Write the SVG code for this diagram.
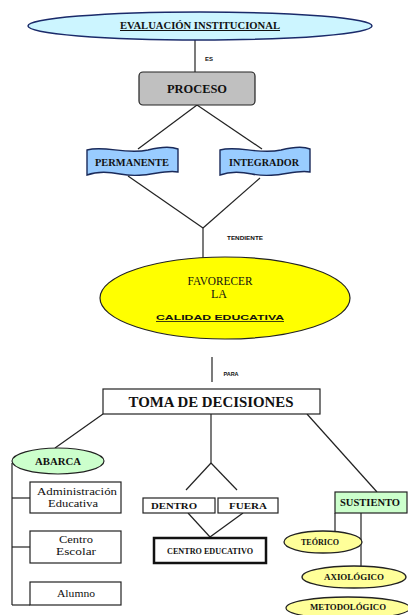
<svg xmlns="http://www.w3.org/2000/svg" width="408" height="615" viewBox="0 0 408 615">
  <style>
    .ln { stroke: #222; stroke-width: 1.2; fill: none; }
    .box { fill: #fff; stroke: #222; stroke-width: 1.2; }
    .t { font-family: "Liberation Serif", "DejaVu Serif", serif; fill: #111; text-anchor: middle; }
    .b { font-weight: bold; }
    .s { font-family: "Liberation Sans", "DejaVu Sans", sans-serif; font-weight: bold; fill: #111; text-anchor: middle; }
  </style>
  <rect width="408" height="615" fill="#fff"/>

  <g id="connectors">
    <line class="ln" x1="195" y1="38" x2="195" y2="72"/>
    <line class="ln" x1="197" y1="105" x2="138" y2="149"/>
    <line class="ln" x1="197" y1="105" x2="262" y2="149"/>
    <line class="ln" x1="128" y1="176" x2="203" y2="228"/>
    <line class="ln" x1="260" y1="178" x2="203" y2="228"/>
    <line class="ln" x1="203" y1="228" x2="203" y2="258"/>
    <line class="ln" x1="212" y1="357" x2="212" y2="382"/>
    <line class="ln" x1="103" y1="414" x2="55" y2="448"/>
    <line class="ln" x1="12" y1="463" x2="12" y2="605"/>
    <line class="ln" x1="12" y1="498" x2="30" y2="498"/>
    <line class="ln" x1="12" y1="547" x2="30" y2="547"/>
    <line class="ln" x1="12" y1="605" x2="30" y2="605"/>
    <line class="ln" x1="211" y1="414" x2="211" y2="463"/>
    <line class="ln" x1="211" y1="463" x2="186" y2="490"/>
    <line class="ln" x1="211" y1="463" x2="237" y2="490"/>
    <line class="ln" x1="188" y1="513" x2="210" y2="537"/>
    <line class="ln" x1="243" y1="513" x2="210" y2="537"/>
    <line class="ln" x1="307" y1="414" x2="377" y2="492"/>
    <line class="ln" x1="335" y1="513" x2="335" y2="532"/>
    <line class="ln" x1="361" y1="513" x2="361" y2="566"/>
  </g>

  <g id="evaluacion">
    <ellipse cx="200" cy="26" rx="172" ry="14" fill="#ccf5ff" stroke="#1a2a6a" stroke-width="1.5"/>
    <text class="t b" x="200" y="29" font-size="10" textLength="160" lengthAdjust="spacingAndGlyphs" text-decoration="underline">EVALUACIÓN INSTITUCIONAL</text>
  </g>
  <text class="s" x="209" y="61" font-size="6">ES</text>

  <g id="proceso">
    <rect x="139" y="72" width="116" height="33" rx="4" fill="#c0c0c0" stroke="#222" stroke-width="1.2"/>
    <text class="t b" x="197" y="93" font-size="13" textLength="60" lengthAdjust="spacingAndGlyphs">PROCESO</text>
  </g>

  <g id="permanente">
    <path d="M87,150 C105,145 125,155 148,150 C160,147 170,146 178,149 L178,172 C162,169 145,179 120,174 C105,171 95,172 87,175 Z" fill="#99ccff" stroke="#1a2a5a" stroke-width="1.4"/>
    <text class="t b" x="132" y="166" font-size="10" textLength="74" lengthAdjust="spacingAndGlyphs">PERMANENTE</text>
  </g>

  <g id="integrador">
    <path d="M220,150 C238,145 258,155 281,150 C293,147 303,146 310,149 L310,172 C294,169 277,179 252,174 C237,171 228,172 220,175 Z" fill="#99ccff" stroke="#1a2a5a" stroke-width="1.4"/>
    <text class="t b" x="264" y="166" font-size="10" textLength="70" lengthAdjust="spacingAndGlyphs">INTEGRADOR</text>
  </g>
  <text class="s" x="245" y="240" font-size="5.5" textLength="36" lengthAdjust="spacingAndGlyphs">TENDIENTE</text>

  <g id="favorecer">
    <ellipse cx="225" cy="298" rx="125" ry="41" fill="#ffff00" stroke="#222" stroke-width="1.2"/>
    <text class="t" x="220" y="285" font-size="12" textLength="65" lengthAdjust="spacingAndGlyphs">FAVORECER</text>
    <text class="t" x="219" y="298" font-size="12">LA</text>
    <text class="s" x="220" y="320" font-size="8" textLength="128" lengthAdjust="spacingAndGlyphs" text-decoration="underline">CALIDAD  EDUCATIVA</text>
  </g>
  <text class="s" x="231" y="376" font-size="5.5">PARA</text>

  <g id="toma">
    <rect class="box" x="103" y="389" width="217" height="25"/>
    <text class="t b" x="211" y="407" font-size="14.5" textLength="165" lengthAdjust="spacingAndGlyphs">TOMA DE DECISIONES</text>
  </g>

  <g id="abarca">
    <ellipse cx="58" cy="461" rx="46" ry="13" fill="#ccffcc" stroke="#222" stroke-width="1.2"/>
    <text class="t b" x="58" y="465" font-size="9.5" textLength="46" lengthAdjust="spacingAndGlyphs">ABARCA</text>
  </g>

  <g id="administracion">
    <rect class="box" x="30" y="482" width="91" height="31"/>
    <text class="t" x="77" y="495" font-size="11" textLength="80" lengthAdjust="spacingAndGlyphs">Administración</text>
    <text class="t" x="73" y="507" font-size="11" textLength="50" lengthAdjust="spacingAndGlyphs">Educativa</text>
  </g>

  <g id="centro-escolar">
    <rect class="box" x="30" y="531" width="91" height="32"/>
    <text class="t" x="76" y="543" font-size="11" textLength="34" lengthAdjust="spacingAndGlyphs">Centro</text>
    <text class="t" x="76" y="555" font-size="11" textLength="40" lengthAdjust="spacingAndGlyphs">Escolar</text>
  </g>

  <g id="alumno">
    <rect class="box" x="30" y="582" width="91" height="23"/>
    <text class="t" x="76" y="597" font-size="11" textLength="38" lengthAdjust="spacingAndGlyphs">Alumno</text>
  </g>

  <g id="dentro">
    <rect class="box" x="143" y="498" width="72" height="15"/>
    <text class="t b" x="174" y="509" font-size="9" textLength="46" lengthAdjust="spacingAndGlyphs">DENTRO</text>
  </g>

  <g id="fuera">
    <rect class="box" x="218" y="498" width="60" height="15"/>
    <text class="t b" x="248" y="509" font-size="9" textLength="38" lengthAdjust="spacingAndGlyphs">FUERA</text>
  </g>

  <g id="centro-educativo">
    <rect x="154" y="538" width="112" height="25" fill="#fff" stroke="#111" stroke-width="2.5"/>
    <text class="t b" x="210" y="554" font-size="9" textLength="86" lengthAdjust="spacingAndGlyphs">CENTRO EDUCATIVO</text>
  </g>

  <g id="sustiento">
    <rect x="335" y="492" width="72" height="21" fill="#ccffcc" stroke="#222" stroke-width="1.2"/>
    <text class="t b" x="370" y="506" font-size="10" textLength="60" lengthAdjust="spacingAndGlyphs">SUSTIENTO</text>
  </g>

  <g id="teorico">
    <ellipse cx="323" cy="542" rx="39" ry="11" fill="#ffff99" stroke="#222" stroke-width="1.3"/>
    <text class="t b" x="320" y="545" font-size="8.5" textLength="38" lengthAdjust="spacingAndGlyphs">TEÓRICO</text>
  </g>

  <g id="axiologico">
    <ellipse cx="354" cy="577" rx="52" ry="11" fill="#ffff99" stroke="#222" stroke-width="1.3"/>
    <text class="t b" x="354" y="580" font-size="8.5" textLength="60" lengthAdjust="spacingAndGlyphs">AXIOLÓGICO</text>
  </g>

  <g id="metodologico">
    <ellipse cx="348" cy="608" rx="62" ry="11" fill="#ffff99" stroke="#222" stroke-width="1.3"/>
    <text class="t b" x="348" y="610" font-size="8.5" textLength="76" lengthAdjust="spacingAndGlyphs">METODOLÓGICO</text>
  </g>
</svg>
